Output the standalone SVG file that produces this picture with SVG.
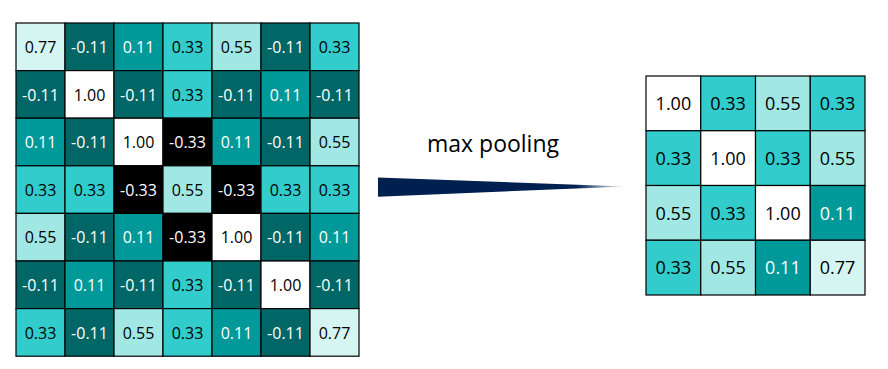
<svg xmlns="http://www.w3.org/2000/svg" width="888" height="369" viewBox="0 0 888 369">
<style>
rect{stroke:#000;stroke-width:1.2}
.c77{fill:#d5f5f3}.c55{fill:#a1e8e5}.c33{fill:#33cccc}.c11{fill:#009999}.m11{fill:#006666}.m33{fill:#000}.c100{fill:#fff}
text{font-family:"Open Sans","Liberation Sans",Arial,sans-serif;text-anchor:middle}
.L{font-size:16px}.R{font-size:18px}
.w{fill:#fff}.k{fill:#000}
</style>
<defs>
<linearGradient id="ag" x1="378" y1="0" x2="626" y2="0" gradientUnits="userSpaceOnUse">
<stop offset="0" stop-color="#002050"/>
<stop offset="0.8" stop-color="#002050"/>
<stop offset="1" stop-color="#002050" stop-opacity="0"/>
</linearGradient>
</defs>
<g id="input-grid" class="L">
<g id="r1">
<rect class="c77" x="16" y="23" width="49" height="47.6"/><text class="k" x="40.5" y="53">0.77</text>
<rect class="m11" x="65" y="23" width="49" height="47.6"/><text class="w" x="89.5" y="53">-0.11</text>
<rect class="c11" x="114" y="23" width="49" height="47.6"/><text class="w" x="138.5" y="53">0.11</text>
<rect class="c33" x="163" y="23" width="49" height="47.6"/><text class="k" x="187.5" y="53">0.33</text>
<rect class="c55" x="212" y="23" width="49" height="47.6"/><text class="k" x="236.5" y="53">0.55</text>
<rect class="m11" x="261" y="23" width="49" height="47.6"/><text class="w" x="285.5" y="53">-0.11</text>
<rect class="c33" x="310" y="23" width="49" height="47.6"/><text class="k" x="334.5" y="53">0.33</text>
</g>
<g id="r2">
<rect class="m11" x="16" y="70.6" width="49" height="47.6"/><text class="w" x="40.5" y="100.6">-0.11</text>
<rect class="c100" x="65" y="70.6" width="49" height="47.6"/><text class="k" x="89.5" y="100.6">1.00</text>
<rect class="m11" x="114" y="70.6" width="49" height="47.6"/><text class="w" x="138.5" y="100.6">-0.11</text>
<rect class="c33" x="163" y="70.6" width="49" height="47.6"/><text class="k" x="187.5" y="100.6">0.33</text>
<rect class="m11" x="212" y="70.6" width="49" height="47.6"/><text class="w" x="236.5" y="100.6">-0.11</text>
<rect class="c11" x="261" y="70.6" width="49" height="47.6"/><text class="w" x="285.5" y="100.6">0.11</text>
<rect class="m11" x="310" y="70.6" width="49" height="47.6"/><text class="w" x="334.5" y="100.6">-0.11</text>
</g>
<g id="r3">
<rect class="c11" x="16" y="118.2" width="49" height="47.6"/><text class="w" x="40.5" y="148.2">0.11</text>
<rect class="m11" x="65" y="118.2" width="49" height="47.6"/><text class="w" x="89.5" y="148.2">-0.11</text>
<rect class="c100" x="114" y="118.2" width="49" height="47.6"/><text class="k" x="138.5" y="148.2">1.00</text>
<rect class="m33" x="163" y="118.2" width="49" height="47.6"/><text class="w" x="187.5" y="148.2">-0.33</text>
<rect class="c11" x="212" y="118.2" width="49" height="47.6"/><text class="w" x="236.5" y="148.2">0.11</text>
<rect class="m11" x="261" y="118.2" width="49" height="47.6"/><text class="w" x="285.5" y="148.2">-0.11</text>
<rect class="c55" x="310" y="118.2" width="49" height="47.6"/><text class="k" x="334.5" y="148.2">0.55</text>
</g>
<g id="r4">
<rect class="c33" x="16" y="165.8" width="49" height="47.6"/><text class="k" x="40.5" y="195.8">0.33</text>
<rect class="c33" x="65" y="165.8" width="49" height="47.6"/><text class="k" x="89.5" y="195.8">0.33</text>
<rect class="m33" x="114" y="165.8" width="49" height="47.6"/><text class="w" x="138.5" y="195.8">-0.33</text>
<rect class="c55" x="163" y="165.8" width="49" height="47.6"/><text class="k" x="187.5" y="195.8">0.55</text>
<rect class="m33" x="212" y="165.8" width="49" height="47.6"/><text class="w" x="236.5" y="195.8">-0.33</text>
<rect class="c33" x="261" y="165.8" width="49" height="47.6"/><text class="k" x="285.5" y="195.8">0.33</text>
<rect class="c33" x="310" y="165.8" width="49" height="47.6"/><text class="k" x="334.5" y="195.8">0.33</text>
</g>
<g id="r5">
<rect class="c55" x="16" y="213.4" width="49" height="47.6"/><text class="k" x="40.5" y="243.4">0.55</text>
<rect class="m11" x="65" y="213.4" width="49" height="47.6"/><text class="w" x="89.5" y="243.4">-0.11</text>
<rect class="c11" x="114" y="213.4" width="49" height="47.6"/><text class="w" x="138.5" y="243.4">0.11</text>
<rect class="m33" x="163" y="213.4" width="49" height="47.6"/><text class="w" x="187.5" y="243.4">-0.33</text>
<rect class="c100" x="212" y="213.4" width="49" height="47.6"/><text class="k" x="236.5" y="243.4">1.00</text>
<rect class="m11" x="261" y="213.4" width="49" height="47.6"/><text class="w" x="285.5" y="243.4">-0.11</text>
<rect class="c11" x="310" y="213.4" width="49" height="47.6"/><text class="w" x="334.5" y="243.4">0.11</text>
</g>
<g id="r6">
<rect class="m11" x="16" y="261" width="49" height="47.6"/><text class="w" x="40.5" y="291">-0.11</text>
<rect class="c11" x="65" y="261" width="49" height="47.6"/><text class="w" x="89.5" y="291">0.11</text>
<rect class="m11" x="114" y="261" width="49" height="47.6"/><text class="w" x="138.5" y="291">-0.11</text>
<rect class="c33" x="163" y="261" width="49" height="47.6"/><text class="k" x="187.5" y="291">0.33</text>
<rect class="m11" x="212" y="261" width="49" height="47.6"/><text class="w" x="236.5" y="291">-0.11</text>
<rect class="c100" x="261" y="261" width="49" height="47.6"/><text class="k" x="285.5" y="291">1.00</text>
<rect class="m11" x="310" y="261" width="49" height="47.6"/><text class="w" x="334.5" y="291">-0.11</text>
</g>
<g id="r7">
<rect class="c33" x="16" y="308.6" width="49" height="47.6"/><text class="k" x="40.5" y="338.6">0.33</text>
<rect class="m11" x="65" y="308.6" width="49" height="47.6"/><text class="w" x="89.5" y="338.6">-0.11</text>
<rect class="c55" x="114" y="308.6" width="49" height="47.6"/><text class="k" x="138.5" y="338.6">0.55</text>
<rect class="c33" x="163" y="308.6" width="49" height="47.6"/><text class="k" x="187.5" y="338.6">0.33</text>
<rect class="c11" x="212" y="308.6" width="49" height="47.6"/><text class="w" x="236.5" y="338.6">0.11</text>
<rect class="m11" x="261" y="308.6" width="49" height="47.6"/><text class="w" x="285.5" y="338.6">-0.11</text>
<rect class="c77" x="310" y="308.6" width="49" height="47.6"/><text class="k" x="334.5" y="338.6">0.77</text>
</g>
</g>
<g id="connectors">
<polygon points="378,177.5 378,196.7 626,186.5" fill="url(#ag)"/>
</g>
<g id="label">
<text x="493" y="152" style="font-size:23px;fill:#000">max pooling</text>
</g>
<g id="output-grid" class="R">
<rect class="c100" x="646" y="76" width="54.75" height="54.75"/><text class="k" x="673.4" y="110">1.00</text>
<rect class="c33" x="700.75" y="76" width="54.75" height="54.75"/><text class="k" x="728.1" y="110">0.33</text>
<rect class="c55" x="755.5" y="76" width="54.75" height="54.75"/><text class="k" x="782.9" y="110">0.55</text>
<rect class="c33" x="810.25" y="76" width="54.75" height="54.75"/><text class="k" x="837.6" y="110">0.33</text>
<rect class="c33" x="646" y="130.75" width="54.75" height="54.75"/><text class="k" x="673.4" y="164.75">0.33</text>
<rect class="c100" x="700.75" y="130.75" width="54.75" height="54.75"/><text class="k" x="728.1" y="164.75">1.00</text>
<rect class="c33" x="755.5" y="130.75" width="54.75" height="54.75"/><text class="k" x="782.9" y="164.75">0.33</text>
<rect class="c55" x="810.25" y="130.75" width="54.75" height="54.75"/><text class="k" x="837.6" y="164.75">0.55</text>
<rect class="c55" x="646" y="185.5" width="54.75" height="54.75"/><text class="k" x="673.4" y="219.5">0.55</text>
<rect class="c33" x="700.75" y="185.5" width="54.75" height="54.75"/><text class="k" x="728.1" y="219.5">0.33</text>
<rect class="c100" x="755.5" y="185.5" width="54.75" height="54.75"/><text class="k" x="782.9" y="219.5">1.00</text>
<rect class="c11" x="810.25" y="185.5" width="54.75" height="54.75"/><text class="w" x="837.6" y="219.5">0.11</text>
<rect class="c33" x="646" y="240.25" width="54.75" height="54.75"/><text class="k" x="673.4" y="274.25">0.33</text>
<rect class="c55" x="700.75" y="240.25" width="54.75" height="54.75"/><text class="k" x="728.1" y="274.25">0.55</text>
<rect class="c11" x="755.5" y="240.25" width="54.75" height="54.75"/><text class="w" x="782.9" y="274.25">0.11</text>
<rect class="c77" x="810.25" y="240.25" width="54.75" height="54.75"/><text class="k" x="837.6" y="274.25">0.77</text>
</g>
</svg>
